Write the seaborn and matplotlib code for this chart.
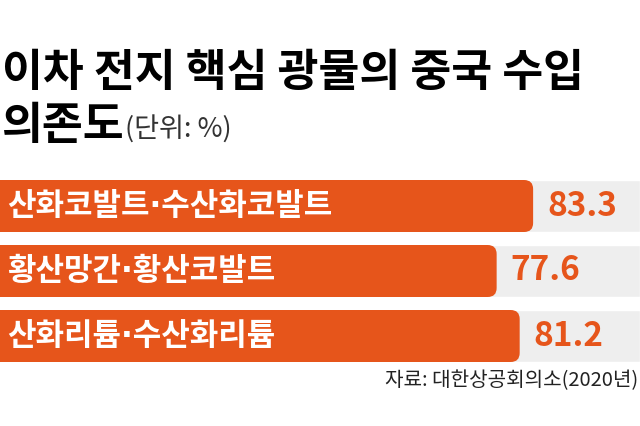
import matplotlib
matplotlib.use("Agg")
import matplotlib.pyplot as plt
from matplotlib.patches import FancyBboxPatch
from matplotlib.transforms import IdentityTransform
import seaborn as sns
import pandas as pd

# --- data -------------------------------------------------------------
minerals = ["산화코발트·수산화코발트", "황산망간·황산코발트", "산화리튬·수산화리튬"]
dependence = [83.3, 77.6, 81.2]
scale_max = [100, 100, 100]

title_line1 = "이차 전지 핵심 광물의 중국 수입"
title_line2 = "의존도"
unit_note = "(단위: %)"
source_note = "자료: 대한상공회의소(2020년)"

ORANGE = "#E6551B"
TRACK = "#EEEEEE"

sns.set_theme(style="white")
plt.rcParams["font.family"] = ["Noto Sans CJK KR", "DejaVu Sans"]
# narrow middle dot from DejaVu, Hangul falls back to Noto Sans CJK
LABEL_FAMILY = ["DejaVu Sans", "Noto Sans CJK KR"]

df = pd.DataFrame({"mineral": minerals, "value": dependence, "full": scale_max})

W, H, DPI = 6.4, 4.26, 100
fig = plt.figure(figsize=(W, H), dpi=DPI)
fig.patch.set_facecolor("white")

# axes spans the full width; rows are 65 px apart
ax_top_px, ax_bot_px = 173.5, 368.5
ax = fig.add_axes([0, (426 - ax_bot_px) / 426, 1, (ax_bot_px - ax_top_px) / 426])

sns.barplot(data=df, x="full", y="mineral", color=TRACK, width=0.8,
            saturation=1, ax=ax, orient="h")
n_track = len(ax.patches)
sns.barplot(data=df, x="value", y="mineral", color=ORANGE, width=0.8,
            saturation=1, ax=ax, orient="h")

ax.set_xlim(0, 100)
ax.set_ylim(2.5, -0.5)
ax.set_axis_off()

# give the value bars a rounded right end
radius = 9
for p in list(ax.patches[n_track:]):
    bb = p.get_window_extent()
    fp = FancyBboxPatch((bb.x0 - 2 * radius, bb.y0), bb.width + 2 * radius, bb.height,
                        boxstyle=f"round,pad=0,rounding_size={radius}",
                        facecolor=ORANGE, edgecolor="none",
                        transform=IdentityTransform())
    ax.add_patch(fp)
    fp.set_clip_path(ax.patch)
    p.remove()

px = 100 / 640.0  # data units per pixel along x
for i, (name, val) in enumerate(zip(minerals, dependence)):
    ax.text(7 * px, i, name, color="white", fontsize=22.3, fontweight="bold",
            family=LABEL_FAMILY, va="center", ha="left")
    ax.text(val + 14 * px, i, f"{val:.1f}", color=ORANGE, fontsize=24,
            fontweight="bold", va="center", ha="left")

# title
fig.text(2 / 640, (426 - 73) / 426, title_line1, fontsize=32, fontweight="bold",
         color="black", va="center", ha="left")
t2 = fig.text(2 / 640, (426 - 126) / 426, title_line2, fontsize=32, fontweight="bold",
              color="black", va="center", ha="left")
fig.canvas.draw()
ext = t2.get_window_extent()
fig.text(ext.x1 / (W * DPI), (426 - 130) / 426, unit_note, fontsize=19.5,
         color="#333333", va="center", ha="left")

fig.text(638 / 640, (426 - 381) / 426, source_note, fontsize=14.5,
         color="#222222", va="center", ha="right")

fig.savefig("out.png", dpi=DPI, facecolor="white")
